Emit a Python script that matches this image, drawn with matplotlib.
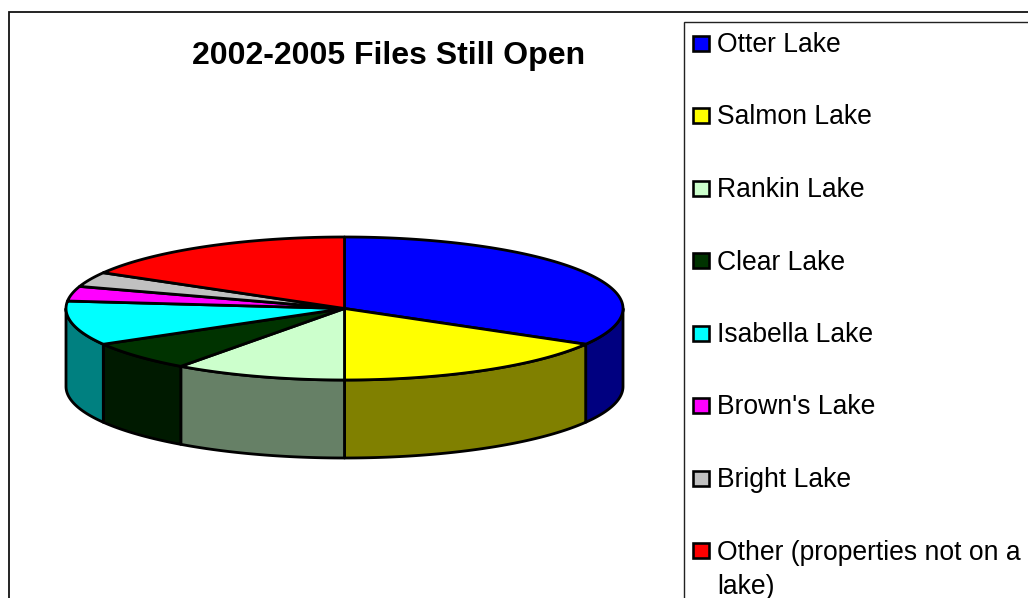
import numpy as np
import matplotlib
matplotlib.use("Agg")
import matplotlib.pyplot as plt
from matplotlib.patches import Polygon, Rectangle

plt.rcParams['font.family'] = ['Liberation Sans', 'DejaVu Sans']

title = "2002-2005 Files Still Open"
labels = ["Otter Lake", "Salmon Lake", "Rankin Lake", "Clear Lake",
          "Isabella Lake", "Brown's Lake", "Bright Lake",
          "Other (properties not on a\nlake)"]
values = [10, 5, 3, 2, 3, 1, 1, 5]
top_colors = ["#0000ff", "#ffff00", "#ccffcc", "#003300",
              "#00ffff", "#ff00ff", "#c0c0c0", "#ff0000"]
side_colors = ["#000080", "#808000", "#668066", "#001a00",
               "#008080", "#800080", "#606060", "#800000"]

W, H = 1028, 598
fig = plt.figure(figsize=(W / 100, H / 100), dpi=100)
ax = fig.add_axes([0, 0, 1, 1])
ax.set_xlim(0, W)
ax.set_ylim(H, 0)
ax.axis("off")

PX = 0.72
cx, cy, rx, ry, depth = 344.5, 308.5, 278.5, 71.5, 78


def arc(a, b):
    t = np.radians(np.linspace(a, b, max(int(abs(b - a)) * 2, 2)))
    return np.column_stack([cx + rx * np.sin(t), cy - ry * np.cos(t)])


# chart frame and legend frame
ax.add_patch(Rectangle((8.5, 12), W + 20, H + 20, fc="white", ec="#111111", lw=1.8 * PX, zorder=0))
ax.add_patch(Rectangle((684, 22), W + 20, H + 20, fc="white", ec="#222222", lw=1.4 * PX, zorder=1))

edges = 360 * np.concatenate([[0], np.cumsum(values)]) / np.sum(values)

# side wall: only the part of each slice facing the viewer
for i in range(len(values)):
    a, b = max(edges[i], 90), min(edges[i + 1], 270)
    if b > a:
        upper = arc(a, b)
        lower = upper[::-1] + [0, depth]
        ax.add_patch(Polygon(np.vstack([upper, lower]), closed=True, fc=side_colors[i],
                             ec="black", lw=2.8 * PX, joinstyle="round", zorder=2))

# top surface
for i in range(len(values)):
    pts = np.vstack([[[cx, cy]], arc(edges[i], edges[i + 1])])
    ax.add_patch(Polygon(pts, closed=True, fc=top_colors[i], ec="black",
                         lw=2.8 * PX, joinstyle="round", zorder=3))

ax.text(389, 56, title, ha="center", va="center", fontsize=23, fontweight="bold", color="black", zorder=5)

# legend
for i, lab in enumerate(labels):
    y = 43 + 72.5 * i
    ax.add_patch(Rectangle((693, y - 7.5), 16, 15, fc=top_colors[i], ec="black", lw=2.6 * PX, zorder=5))
    ax.text(717, y - 11, lab, ha="left", va="top", fontsize=19.1, color="black",
            linespacing=1.42, zorder=5)

fig.savefig("out.png", dpi=100, facecolor="white")
